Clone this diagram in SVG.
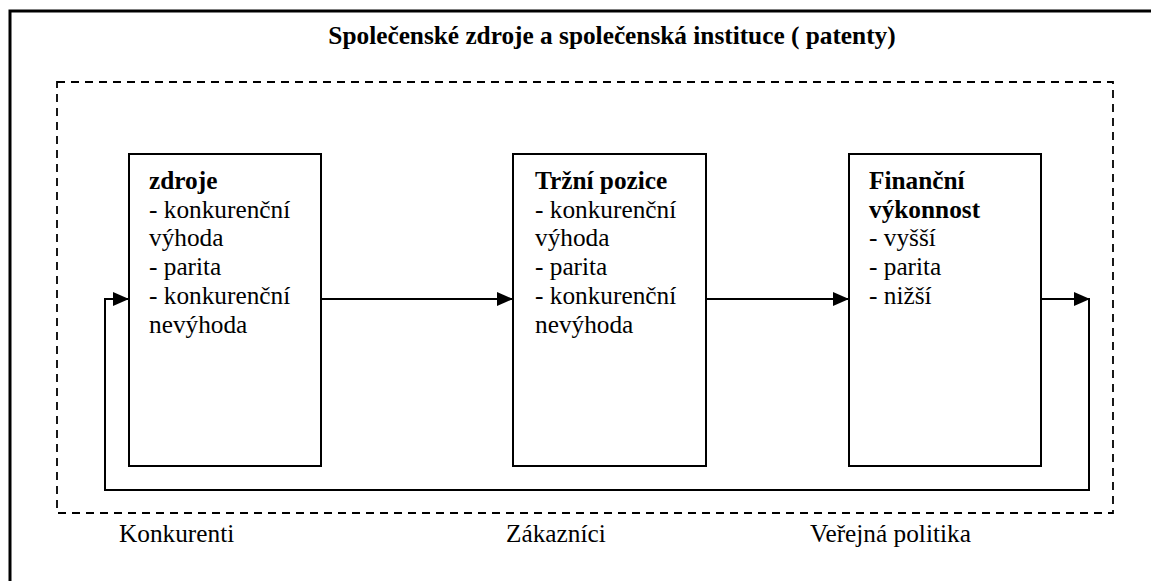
<svg xmlns="http://www.w3.org/2000/svg" width="1151" height="581" viewBox="0 0 1151 581">
<defs>
<style>
text{font-family:"Liberation Serif","Times New Roman",serif;font-size:25.3px;fill:#000}
.b{font-weight:bold}
.box{fill:#fff;stroke:#000;stroke-width:2}
.ln{fill:none;stroke:#000;stroke-width:2}
</style>
<marker id="ah" viewBox="0 0 16 14" refX="16" refY="7" markerWidth="16" markerHeight="14" markerUnits="userSpaceOnUse" orient="auto">
<path d="M0,0 L16,7 L0,14 Z" fill="#000"/>
</marker>
</defs>
<rect width="1151" height="581" fill="#fff"/>
<rect id="outer" x="10" y="11" width="1170" height="600" fill="none" stroke="#000" stroke-width="3"/>
<text class="b" x="612" y="44" text-anchor="middle">Společenské zdroje a společenská instituce ( patenty)</text>
<rect id="env" x="57" y="82" width="1056" height="431" fill="none" stroke="#000" stroke-width="1.8" stroke-dasharray="8,6"/>
<g id="connectors">
<line class="ln" x1="321" y1="299" x2="513" y2="299" marker-end="url(#ah)"/>
<line class="ln" x1="706" y1="299" x2="849" y2="299" marker-end="url(#ah)"/>
<line class="ln" x1="1041" y1="299" x2="1090" y2="299" marker-end="url(#ah)"/>
<polyline class="ln" points="1089,298 1089,490 105,490 105,299 129,299" marker-end="url(#ah)"/>
</g>
<g id="zdroje">
<rect class="box" x="129" y="154" width="192" height="312"/>
<text class="b" x="149" y="189">zdroje</text>
<text x="149" y="217.7">- konkurenční</text>
<text x="149" y="246.4">výhoda</text>
<text x="149" y="275.1">- parita</text>
<text x="149" y="303.8">- konkurenční</text>
<text x="149" y="332.5">nevýhoda</text>
</g>
<g id="trzni-pozice">
<rect class="box" x="513" y="154" width="193" height="312"/>
<text class="b" x="535" y="189">Tržní pozice</text>
<text x="535" y="217.7">- konkurenční</text>
<text x="535" y="246.4">výhoda</text>
<text x="535" y="275.1">- parita</text>
<text x="535" y="303.8">- konkurenční</text>
<text x="535" y="332.5">nevýhoda</text>
</g>
<g id="financni-vykonnost">
<rect class="box" x="849" y="154" width="192" height="312"/>
<text class="b" x="869" y="189">Finanční</text>
<text class="b" x="869" y="217.7">výkonnost</text>
<text x="869" y="246.4">- vyšší</text>
<text x="869" y="275.1">- parita</text>
<text x="869" y="303.8">- nižší</text>
</g>
<text x="119" y="542">Konkurenti</text>
<text x="506" y="542">Zákazníci</text>
<text x="810" y="542">Veřejná politika</text>
</svg>
